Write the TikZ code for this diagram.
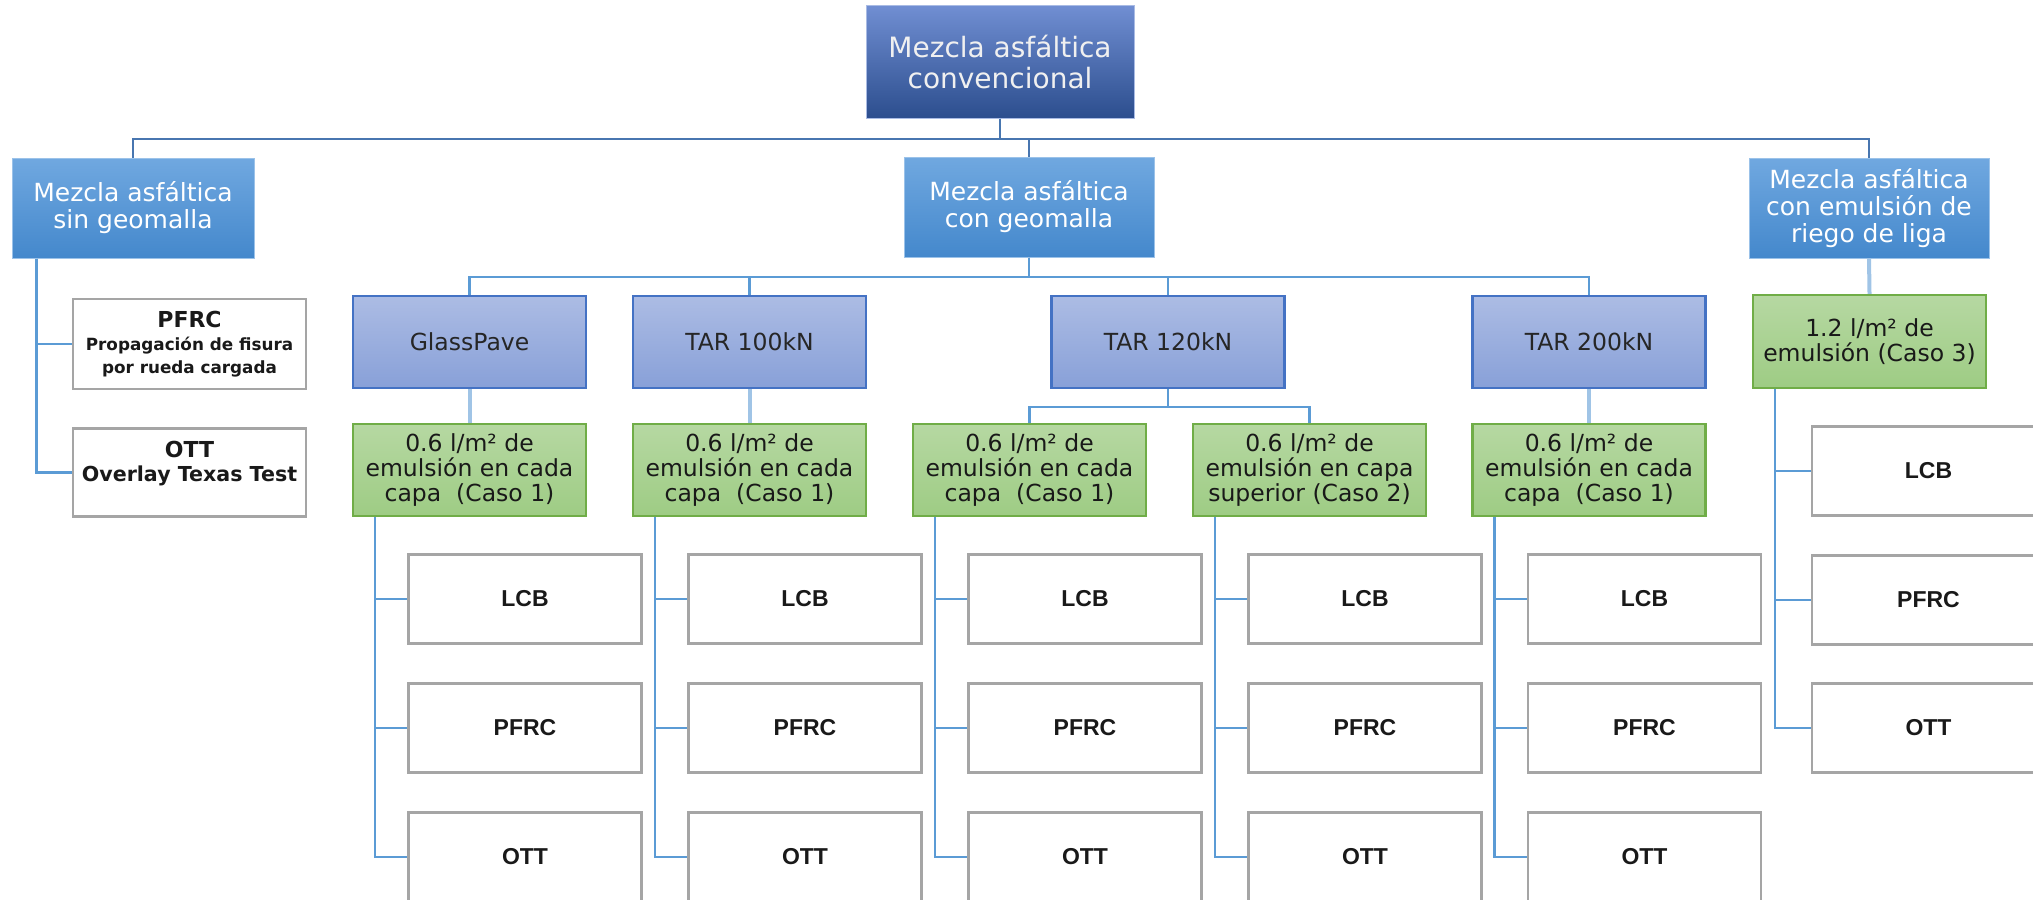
\documentclass[tikz,border=0pt]{standalone}
\usepackage{fontspec}
\setmainfont{DejaVu Sans}
\newfontfamily\leaffont{Liberation Sans}
\usetikzlibrary{positioning}

\definecolor{rootTop}{RGB}{112,142,210}
\definecolor{rootBot}{RGB}{44,78,142}
\definecolor{midTop}{RGB}{112,168,224}
\definecolor{midBot}{RGB}{68,136,204}
\definecolor{tarTop}{RGB}{172,188,228}
\definecolor{tarBot}{RGB}{136,160,216}
\definecolor{tarLine}{RGB}{68,114,196}
\definecolor{caseTop}{RGB}{182,216,162}
\definecolor{caseBot}{RGB}{158,204,132}
\definecolor{caseLine}{RGB}{112,173,71}
\definecolor{leafLine}{RGB}{165,165,165}
\definecolor{linkDark}{RGB}{72,118,176}
\definecolor{linkBlue}{RGB}{91,155,213}
\definecolor{linkPale}{RGB}{160,196,230}

\begin{document}
\begin{tikzpicture}[x=1pt,y=-1pt,
  rootbox/.style={draw=rootTop!60!white,line width=1pt,top color=rootTop,bottom color=rootBot,
    text=white!94!black,align=center,inner sep=0pt,minimum width=268pt,minimum height=112pt,
    font=\fontsize{28}{31}\selectfont},
  midbox/.style={draw=midTop!70!white,line width=1pt,top color=midTop,bottom color=midBot,
    text=white,align=center,inner sep=0pt,minimum height=100pt,
    font=\fontsize{25}{27}\selectfont},
  tarbox/.style={draw=tarLine,line width=2.2pt,top color=tarTop,bottom color=tarBot,
    text=black!85,align=center,inner sep=0pt,minimum width=233pt,minimum height=92pt,
    font=\fontsize{23.5}{25}\selectfont},
  casebox/.style={draw=caseLine,line width=2.2pt,top color=caseTop,bottom color=caseBot,
    text=black!90,align=center,inner sep=0pt,minimum width=233pt,minimum height=92pt,
    font=\fontsize{23.5}{25}\selectfont},
  leaf/.style={draw=leafLine,line width=2.4pt,fill=white,text=black!90,align=center,
    inner sep=0pt,minimum width=233pt,minimum height=89pt,
    font=\leaffont\bfseries\fontsize{23}{26}\selectfont},
  note/.style={font=\bfseries\fontsize{22}{26}\selectfont},
  toplink/.style={draw=linkDark,line width=2.4pt},
  link/.style={draw=linkBlue,line width=2.6pt},
  palelink/.style={draw=linkPale,line width=4pt}]
\useasboundingbox (0,0) rectangle (2033,899);

% levels 0 and 1
\node[rootbox] (root) at (1000,62) {Mezcla asfáltica\\convencional};
\node[midbox,minimum width=242pt] (sin) at (133,208) {Mezcla asfáltica\\sin geomalla};
\node[midbox,minimum width=250pt] (geo) at (1029,207) {Mezcla asfáltica\\con geomalla};
\node[midbox,minimum width=240pt] (riego) at (1869,208) {Mezcla asfáltica\\con emulsión de\\riego de liga};
\coordinate (bus1) at (0,139);
\coordinate (bus2) at (0,277);
\coordinate (bus3) at (0,407);

\draw[toplink] (root.south) -- (root.south |- bus1) -| (sin.north);
\draw[toplink] (root.south) -- (root.south |- bus1) -| (geo.north);
\draw[toplink] (root.south) -- (root.south |- bus1) -| (riego.north);

% geomallas
\node[tarbox] (glass) at (469.5,342) {GlassPave};
\node[tarbox] (tar100) at (749.5,342) {TAR 100kN};
\node[tarbox] (tar120) at (1168,342) {TAR 120kN};
\node[tarbox] (tar200) at (1589,342) {TAR 200kN};
\foreach \t in {glass,tar100,tar120,tar200}
  \draw[link] (geo.south) -- (geo.south |- bus2) -| (\t.north);

% riego
\node[casebox] (g1) at (469.5,470) {0.6 l/m² de\\emulsión en cada\\capa~~(Caso 1)};
\node[casebox] (g2) at (749.5,470) {0.6 l/m² de\\emulsión en cada\\capa~~(Caso 1)};
\node[casebox] (g3) at (1029.5,470) {0.6 l/m² de\\emulsión en cada\\capa~~(Caso 1)};
\node[casebox] (g4) at (1309.5,470) {0.6 l/m² de\\emulsión en capa\\superior (Caso 2)};
\node[casebox] (g5) at (1589,470) {0.6 l/m² de\\emulsión en cada\\capa~~(Caso 1)};
\node[casebox,minimum height=93pt] (g6) at (1869.5,341.5) {1.2 l/m² de\\emulsión (Caso 3)};

\draw[palelink] (glass.south) -- (g1.north);
\draw[palelink] (tar100.south) -- (g2.north);
\draw[palelink] (tar200.south) -- (g5.north);
\draw[palelink] (riego.south) -- (g6.north);
\draw[link] (tar120.south) -- (tar120.south |- bus3) -| (g3.north);
\draw[link] (tar120.south) -- (tar120.south |- bus3) -| (g4.north);

% ensayos
\foreach \i/\x in {1/469.5,2/749.5,3/1029.5,4/1309.5,5/1589}{
  \node[leaf] (lcb\i) at (\x+55.5,599) {LCB};
  \node[leaf] (pfrc\i) at (\x+55.5,728) {PFRC};
  \node[leaf] (ott\i) at (\x+55.5,857) {OTT};
  \draw[link] ([xshift=23pt]g\i.south west) |- (lcb\i.west);
  \draw[link] ([xshift=23pt]g\i.south west) |- (pfrc\i.west);
  \draw[link] ([xshift=23pt]g\i.south west) |- (ott\i.west);
}
\node[leaf] (lcb6) at (1928.5,471) {LCB};
\node[leaf] (pfrc6) at (1928.5,600) {PFRC};
\node[leaf] (ott6) at (1928.5,728) {OTT};
\foreach \n in {lcb6,pfrc6,ott6}
  \draw[link] ([xshift=23pt]g6.south west) |- (\n.west);

\node[leaf,note,minimum height=90pt] (pfrc0) at (189.5,344)
  {PFRC\\[-3pt]{\fontsize{16.8}{23}\selectfont Propagación de fisura}\\[-3pt]
   {\fontsize{16.8}{23}\selectfont por rueda cargada}};
\node[leaf,note,minimum height=88pt] (ott0) at (189.5,472.5)
  {OTT\\[-2pt]{\fontsize{20.6}{23}\selectfont Overlay Texas Test}\\[-4pt]\mbox{}};
\draw[link] ([xshift=25pt]sin.south west) |- (pfrc0.west);
\draw[link] ([xshift=25pt]sin.south west) |- (ott0.west);
\end{tikzpicture}
\end{document}
